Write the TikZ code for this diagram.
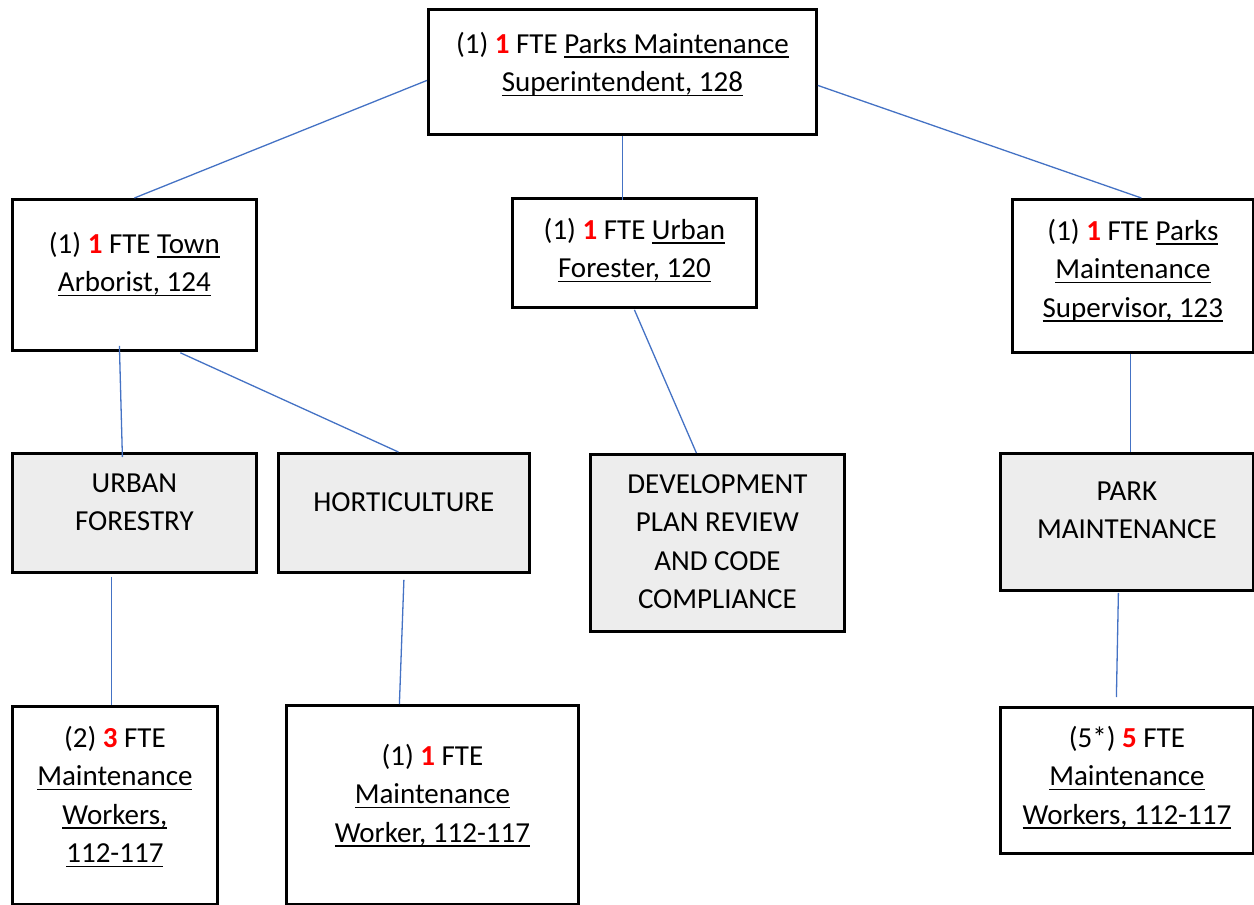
\documentclass[tikz,border=0pt]{standalone}
\usepackage{fontspec}
\setmainfont{Carlito}
\usetikzlibrary{positioning}
\definecolor{linkblue}{RGB}{68,114,196}
\definecolor{unitgray}{RGB}{237,237,237}
\definecolor{fteRed}{RGB}{255,0,0}
% underlined run with a fixed rule position
\newcommand\ulw[1]{\leavevmode\setbox0\hbox{#1}\rlap{\rule[-4.5pt]{\wd0}{1.7pt}}\box0}
% red head count
\newcommand\fte[1]{{\color{fteRed}\bfseries #1}}
% box body: width, height, first baseline offset, text
\newcommand\bx[4]{\parbox[t][#2pt][t]{#1pt}{\centering\rule{0pt}{#3pt}#4}}
\tikzset{
  posbox/.style={draw=black, line width=2.8pt, fill=white, inner sep=0pt, anchor=north west},
  unitbox/.style={posbox, fill=unitgray},
  link/.style={draw=linkblue, line width=1.3pt}
}
\begin{document}
\begin{tikzpicture}[x=1pt, y=-1pt, font=\fontsize{29}{38.5}\selectfont]
\useasboundingbox (0,0) rectangle (1254,905);

% positions
\node[posbox] (top) at (427,8) {\bx{388}{125}{44}{(1) \fte{1} FTE \ulw{Parks Maintenance}\\\ulw{Superintendent, 128}}};
\node[posbox] (arb) at (11,198) {\bx{244}{151}{54}{(1) \fte{1} FTE \ulw{Town}\\\ulw{Arborist, 124}}};
\node[posbox] (fore) at (511,197) {\bx{244}{109}{41}{(1) \fte{1} FTE \ulw{Urban}\\\ulw{Forester, 120}}};
\node[posbox] (sup) at (1011,198) {\bx{241}{153}{41}{(1) \fte{1} FTE \ulw{Parks}\\\ulw{Maintenance}\\\ulw{Supervisor, 123}}};

% work units
\node[unitbox] (uf) at (11,452) {\bx{244}{119}{39}{URBAN\\FORESTRY}};
\node[unitbox] (hort) at (277,452) {\bx{251}{119}{58}{HORTICULTURE}};
\node[unitbox] (dev) at (589,453) {\bx{254}{177}{39}{DEVELOPMENT\\PLAN REVIEW\\AND CODE\\COMPLIANCE}};
\node[unitbox] (pm) at (999,452) {\bx{253}{137}{47}{PARK\\MAINTENANCE}};

% crews
\node[posbox] (w1) at (11,705) {\bx{205}{198}{41}{(2) \fte{3} FTE\\\ulw{Maintenance}\\\ulw{Workers,}\\\ulw{112-117}}};
\node[posbox] (w2) at (285,704) {\bx{292}{199}{60}{(1) \fte{1} FTE\\\ulw{Maintenance}\\\ulw{Worker, 112-117}}};
\node[posbox] (w3) at (999,706) {\bx{253}{146}{40}{(5*) \fte{5} FTE\\\ulw{Maintenance}\\\ulw{Workers, 112-117}}};

% reporting lines
\draw[link] ([yshift=-8.5pt]top.west) -- (arb.north);
\draw[link] (top.south) -- ([yshift=-3pt]top.south |- fore.north);
\draw[link] ([yshift=-13.5pt]top.east) -- ([xshift=8.5pt]sup.north);
\draw[link] ([xshift=-15pt,yshift=6pt]arb.south) -- ([xshift=-12pt,yshift=-5pt]uf.north);
\draw[link] ([xshift=46pt,yshift=-1pt]arb.south) -- ([xshift=-5.5pt]hort.north);
\draw[link] ([yshift=-1pt]fore.south) -- ([xshift=-21pt]dev.north);
\draw[link] ([xshift=-2.5pt]sup.south) -- ([xshift=3.5pt]pm.north);
\draw[link] ([xshift=-23pt,yshift=-3pt]uf.south) -- ([xshift=-3.5pt]w1.north);
\draw[link] ([yshift=-6pt]hort.south) -- ([xshift=-33pt]w2.north);
\draw[link] ([xshift=-8.5pt,yshift=-1pt]pm.south) -- ([xshift=-10.5pt,yshift=9pt]w3.north);
\end{tikzpicture}
\end{document}
